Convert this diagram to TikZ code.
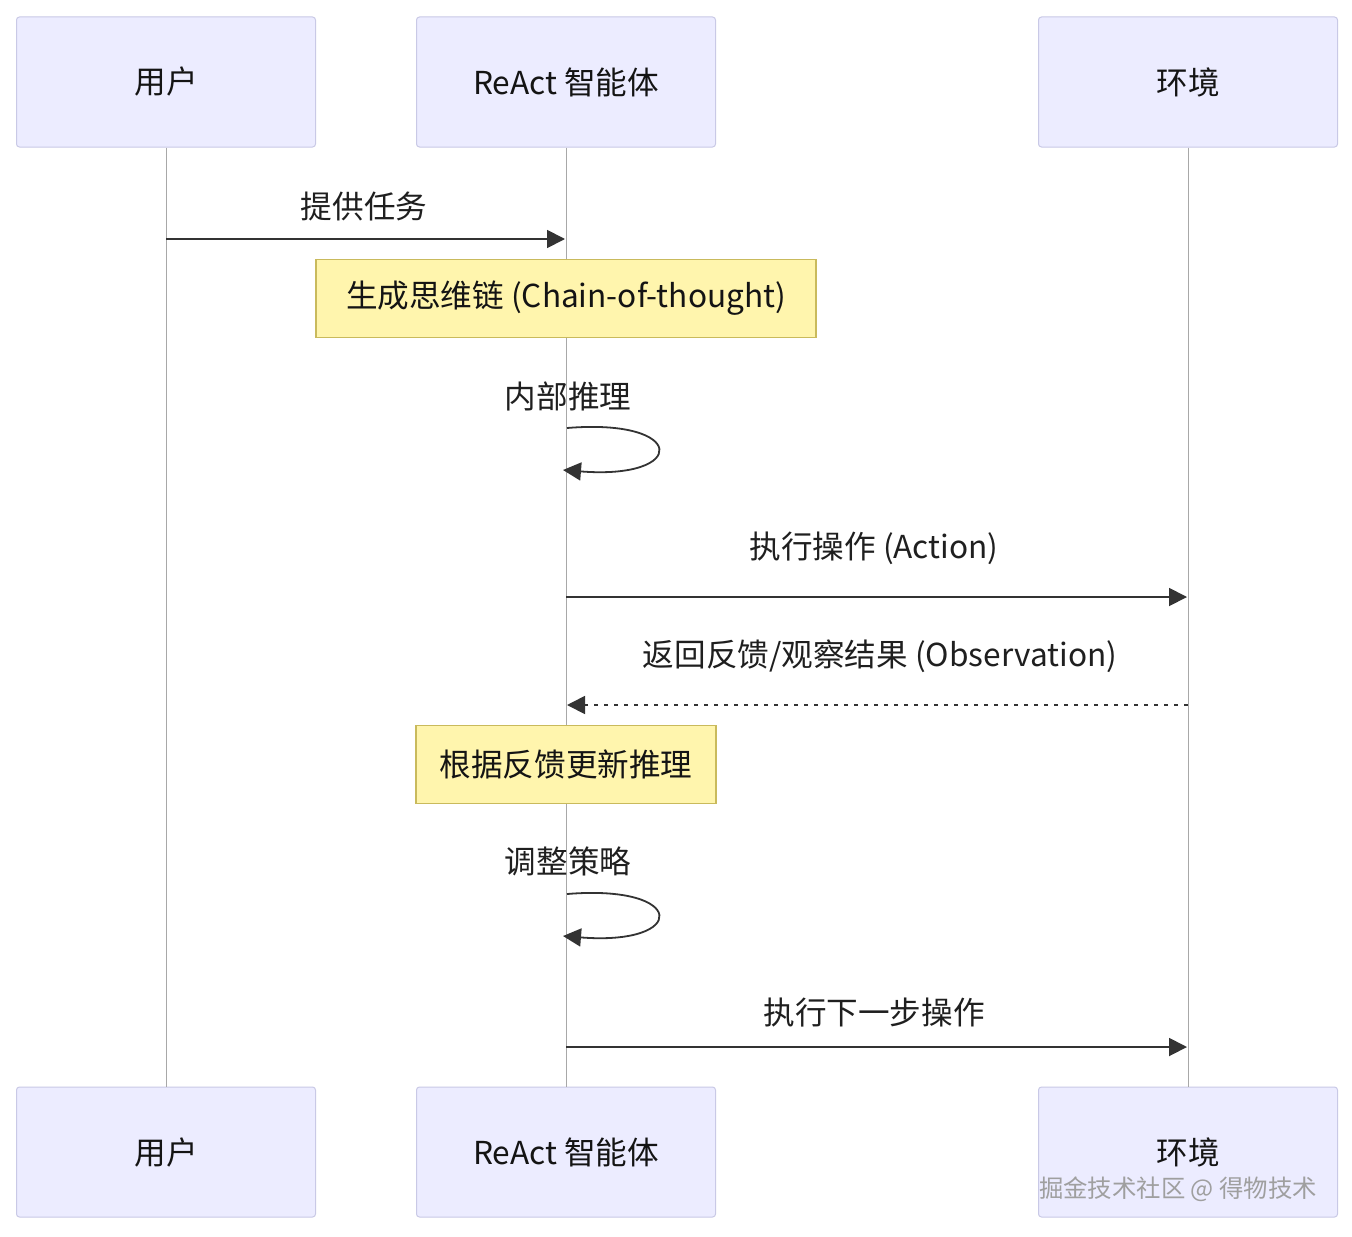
\documentclass[tikz,border=0pt]{standalone}
\usepackage{fontspec}
\setmainfont{Noto Sans CJK SC}
\usetikzlibrary{arrows.meta}
\definecolor{actfill}{HTML}{ECECFF}
\definecolor{actdraw}{HTML}{C9C9E6}
\definecolor{notefill}{HTML}{FFF5AD}
\definecolor{notedraw}{HTML}{C9BA5C}
\definecolor{lifec}{HTML}{A8A8A8}
\definecolor{msgc}{HTML}{333333}
\begin{document}
\begin{tikzpicture}[x=0.5pt,y=-0.5pt,
  actor/.style={draw=actdraw,fill=actfill,line width=0.5pt,rounded corners=1.5pt,minimum width=149.5pt,minimum height=65pt,inner sep=0pt,font=\fontsize{15.8}{18}\selectfont,text=black!92},
  notebox/.style={draw=notedraw,fill=notefill,line width=0.6pt,minimum height=39pt,inner sep=0pt,font=\fontsize{15.8}{18}\selectfont,text=black!92},
  life/.style={draw=lifec,line width=0.5pt},
  msg/.style={draw=msgc,line width=0.9pt,-{Triangle[length=9pt,width=9pt]}},
  reply/.style={msg,dash pattern=on 2pt off 3pt},
  lbl/.style={font=\fontsize{15.8}{18}\selectfont,text=black!88,inner sep=0pt}
]
\useasboundingbox[fill=white] (0,0) rectangle (1352,1236);
% actors
\node[actor] (u1) at (166,82) {用户};
\node[actor] (a1) at (566,82) {ReAct 智能体};
\node[actor] (e1) at (1188,82) {环境};
\node[actor] (u2) at (166,1152) {用户};
\node[actor] (a2) at (566,1152) {ReAct 智能体};
\node[actor] (e2) at (1188,1152) {环境};
% lifelines
\draw[life] (u1.south) -- (u2.north);
\draw[life] (a1.south) -- (a2.north);
\draw[life] (e1.south) -- (e2.north);
% message 1
\coordinate (m1s) at (166,239);
\coordinate (m1e) at (565,239);
\node[lbl] (l1) at (364,206) {提供任务};
\draw[msg] (m1s) -- (m1e);
% note 1
\node[notebox,minimum width=250pt] (n1) at (566,298.5) {生成思维链 (Chain-of-thought)};
% self loop 1
\node[lbl] (l2) at (568,396) {内部推理};
\coordinate (s1a) at (567,428);
\coordinate (s1b) at (563,470);
\draw[msg] (s1a) .. controls (688,418) and (688,480) .. (s1b);
% message 3
\node[lbl] (l3) at (874,548) {执行操作 (Action)};
\coordinate (m3s) at (566,597);
\coordinate (m3e) at (1187,597);
\draw[msg] (m3s) -- (m3e);
% message 4 reply
\node[lbl] (l4) at (880,656) {返回反馈/观察结果 (Observation)};
\coordinate (m4s) at (1188,705);
\coordinate (m4e) at (567,705);
\draw[reply] (m4s) -- (m4e);
% note 2
\node[notebox,minimum width=150pt] (n2) at (566,764.5) {根据反馈更新推理};
% self loop 2
\node[lbl] (l5) at (568,861) {调整策略};
\coordinate (s2a) at (567,894);
\coordinate (s2b) at (563,936);
\draw[msg] (s2a) .. controls (688,884) and (688,946) .. (s2b);
% message 6
\node[lbl] (l6) at (874,1013) {执行下一步操作};
\coordinate (m6s) at (566,1047);
\coordinate (m6e) at (1187,1047);
\draw[msg] (m6s) -- (m6e);
% watermark
\node[font=\fontsize{12.2}{14}\selectfont,text=gray!75,inner sep=0pt] (wm) at (1178,1189) {掘金技术社区 @ 得物技术};
\end{tikzpicture}
\end{document}
